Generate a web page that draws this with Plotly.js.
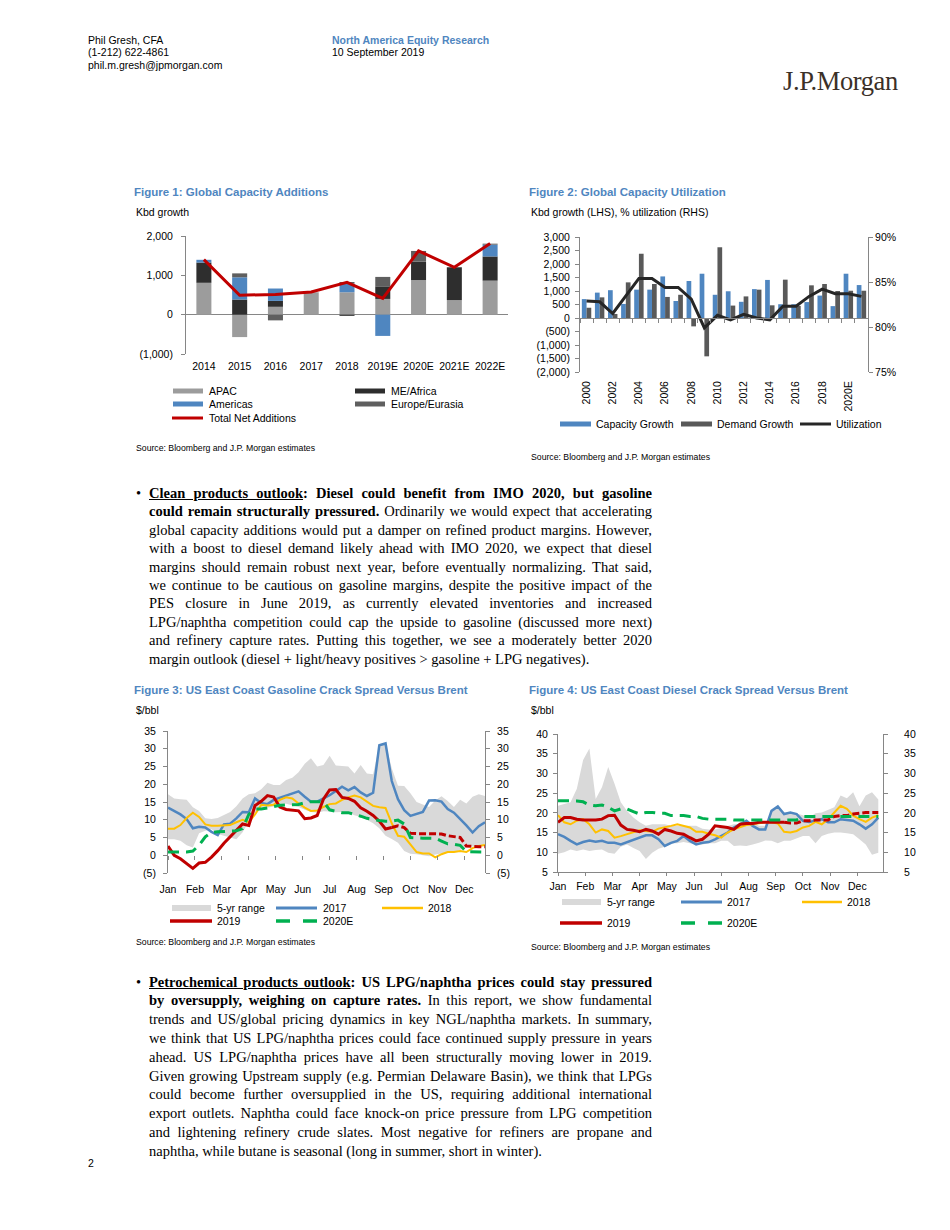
<!DOCTYPE html>
<html><head><meta charset="utf-8">
<script src="https://cdn.plot.ly/plotly-3.0.1.min.js"></script>
<style>
body{margin:0;background:#fff;width:950px;height:1230px;position:relative;overflow:hidden;font-family:'Liberation Sans',Arial,sans-serif;color:#000;}
.abs{position:absolute;white-space:nowrap;}
.hdr{font-size:10.5px;line-height:12.5px;}
.para{position:absolute;left:149px;width:503px;font-family:'Liberation Serif','Times New Roman',serif;font-size:14.5px;}
.para div{text-align:justify;text-align-last:justify;height:inherit;}
.para div.last{text-align-last:left;}
.bul{position:absolute;left:136px;font-family:'Liberation Serif','Times New Roman',serif;font-size:14.5px;}
.chart{position:absolute;}
</style></head><body>

<div class="abs hdr" style="left:88px;top:34px">Phil Gresh, CFA</div>
<div class="abs hdr" style="left:88px;top:46px">(1-212) 622-4861</div>
<div class="abs hdr" style="left:88px;top:59px">phil.m.gresh@jpmorgan.com</div>
<div class="abs hdr" style="left:332px;top:34px;color:#4f86c0;font-weight:bold">North America Equity Research</div>
<div class="abs hdr" style="left:332px;top:46px">10 September 2019</div>
<div class="abs" style="left:783px;top:68px;font-family:'Liberation Serif','Times New Roman',serif;font-size:26.5px;line-height:26px;color:#3b3028;letter-spacing:-0.4px">J.P.Morgan</div>

<div id="fig1" class="chart" style="left:130px;top:180px"></div>
<div id="fig2" class="chart" style="left:525px;top:180px"></div>
<div id="fig3" class="chart" style="left:130px;top:680px"></div>
<div id="fig4" class="chart" style="left:525px;top:680px"></div>

<div class="bul" style="top:484px;line-height:18.4px">&#8226;</div>
<div class="para" style="top:484px;line-height:18.4px">
<div><b><u>Clean products outlook</u>: Diesel could benefit from IMO 2020, but gasoline</b></div>
<div><b>could remain structurally pressured.</b> Ordinarily we would expect that accelerating</div>
<div>global capacity additions would put a damper on refined product margins. However,</div>
<div>with a boost to diesel demand likely ahead with IMO 2020, we expect that diesel</div>
<div>margins should remain robust next year, before eventually normalizing. That said,</div>
<div>we continue to be cautious on gasoline margins, despite the positive impact of the</div>
<div>PES closure in June 2019, as currently elevated inventories and increased</div>
<div>LPG/naphtha competition could cap the upside to gasoline (discussed more next)</div>
<div>and refinery capture rates. Putting this together, we see a moderately better 2020</div>
<div class="last">margin outlook (diesel + light/heavy positives &gt; gasoline + LPG negatives).</div>
</div>

<div class="bul" style="top:972.6px;line-height:18.8px">&#8226;</div>
<div class="para" style="top:972.6px;line-height:18.8px">
<div><b><u>Petrochemical products outlook</u>: US LPG/naphtha prices could stay pressured</b></div>
<div><b>by oversupply, weighing on capture rates.</b> In this report, we show fundamental</div>
<div>trends and US/global pricing dynamics in key NGL/naphtha markets. In summary,</div>
<div>we think that US LPG/naphtha prices could face continued supply pressure in years</div>
<div>ahead. US LPG/naphtha prices have all been structurally moving lower in 2019.</div>
<div>Given growing Upstream supply (e.g. Permian Delaware Basin), we think that LPGs</div>
<div>could become further oversupplied in the US, requiring additional international</div>
<div>export outlets. Naphtha could face knock-on price pressure from LPG competition</div>
<div>and lightening refinery crude slates. Most negative for refiners are propane and</div>
<div class="last">naphtha, while butane is seasonal (long in summer, short in winter).</div>
</div>

<div class="abs hdr" style="left:88px;top:1157px">2</div>

<script>
// ---------------- DATA ----------------
// Figure 1: Global Capacity Additions (kbd)
const f1Years = ['2014','2015','2016','2017','2018','2019E','2020E','2021E','2022E'];
const f1APAC = [810, -570, 200, 570, 570, 400, 880, 370, 865];
const f1MEAfrica = [515, 385, 150, 0, -30, 320, 470, 835, 615];
const f1Americas = [70, 565, 315, 0, 220, -540, 0, 0, 300];
const f1Europe = [0, 100, -145, 0, 40, 240, 270, 0, 25];
const f1Total = [1400, 495, 515, 575, 820, 415, 1620, 1205, 1810];

// Figure 2: Global Capacity Utilization
const f2Years = ['2000','2001','2002','2003','2004','2005','2006','2007','2008','2009','2010','2011','2012','2013','2014','2015','2016','2017','2018','2019','2020E','2021E'];
const f2Capacity = [700, 940, 1030, 520, 1050, 1050, 1540, 630, 1370, 1640, 860, 990, 600, 1070, 1410, 510, 510, 590, 830, 440, 1640, 1220];
const f2Demand = [380, 765, 150, 1320, 2380, 1260, 780, 860, -310, -1420, 2620, 460, 800, 1050, 470, 1420, 450, 1210, 1260, 1000, 1010, 1010];
const f2Utilization = [82.9, 82.8, 81.5, 83.5, 85.4, 85.4, 84.4, 84.4, 83.1, 79.9, 81.3, 80.8, 81.4, 81.0, 80.8, 82.3, 82.3, 83.4, 84.2, 83.7, 83.7, 83.4];
const f2TickYears = ['2000','2002','2004','2006','2008','2010','2012','2014','2016','2018','2020E'];

// Weekly series (week of year)
const weeks = [1,2,3,4,5,6,7,8,9,10,11,12,13,14,15,16,17,18,19,20,21,22,23,24,25,26,27,28,29,30,31,32,33,34,35,36,37,38,39,40,41,42,43,44,45,46,47,48,49,50,51,52];
const monthNames = ['Jan','Feb','Mar','Apr','May','Jun','Jul','Aug','Sep','Oct','Nov','Dec'];

// Figure 3: Gasoline crack ($/bbl)
const gasRangeHigh = [17.2,16.0,15.8,15.6,13.5,12.5,10.4,10.2,10.5,11.4,12.2,13.8,16.0,17.2,17.5,18.6,20.4,19.8,19.8,21.2,21.8,23.4,25.8,27.3,25.0,25.4,28.0,25.3,25.2,25.0,23.0,25.4,23.0,22.8,31.0,31.6,24.5,19.6,19.5,17.5,15.0,14.2,13.6,15.4,16.6,15.3,13.6,15.6,14.6,16.5,17.2,16.7];
const gasRangeLow = [4.5,4.5,4.1,2.8,2.2,6.2,6.9,7.3,6.0,5.4,5.0,4.5,6.5,9.5,12.0,13.5,13.4,13.7,14.6,14.5,14.0,13.6,12.8,12.2,12.0,12.4,12.3,12.1,12.2,12.0,11.3,10.8,10.0,9.0,7.6,5.5,4.6,3.5,1.2,0.4,0.3,0.1,-0.3,0.2,0.5,0.8,0.8,1.5,2.2,2.5,2.6,2.6];
const gas2017 = [13.4,12.4,11.5,10.2,7.6,8.0,7.8,6.6,5.7,8.7,8.9,10.4,12.2,12.1,16.0,14.7,14.4,15.6,16.2,16.6,17.4,18.0,16.5,15.1,15.1,16.0,16.9,18.1,19.3,18.3,19.2,17.7,16.7,17.6,31.0,31.5,20.9,15.8,12.7,11.1,11.6,12.2,15.4,15.5,15.1,13.0,12.0,10.3,8.4,6.4,8.2,9.3];
const gas2018 = [7.5,7.5,8.5,10.5,12.0,10.8,8.7,8.3,8.3,8.3,8.5,9.3,10.0,9.3,11.5,14.2,14.0,14.2,15.6,16.3,16.0,14.6,13.4,12.5,12.6,13.6,14.4,14.6,15.6,16.3,16.8,16.3,15.0,13.9,13.5,13.3,9.0,5.5,5.2,3.2,0.9,0.5,0.5,-0.6,0.3,0.9,0.9,1.2,0.9,2.0,2.6,2.9];
const gas2019 = [2.6,0.0,-1.0,-2.3,-3.7,-2.2,-2.0,-0.5,1.3,3.4,5.2,7.2,8.8,8.4,14.0,15.2,16.8,16.4,13.6,12.9,12.8,12.5,10.3,10.5,11.2,15.8,18.4,18.5,16.3,16.0,15.2,13.4,12.4,11.2,9.6,7.4,7.8];
const gas2019Est = [7.8,8.3,7.8,6.2,6.1,6.1,6.1,6.1,6.0,5.5,5.2,5.0,2.6,2.4,2.4,2.4];
const gas2020E = [0.9,0.9,0.9,0.9,1.2,2.8,5.2,6.4,6.6,6.7,6.9,6.9,7.5,11.5,13.0,13.0,13.3,13.8,14.1,14.2,14.2,14.3,14.8,15.1,15.1,15.1,12.8,12.3,12.0,12.0,11.6,11.0,10.4,10.0,9.8,9.6,9.6,9.9,8.8,5.0,4.8,4.8,4.8,4.8,4.0,3.2,3.1,2.8,1.0,0.9,0.9,0.9];

// Figure 4: Diesel crack ($/bbl)
const dslRangeHigh = [21.8,22.2,22.7,26.1,33.4,36.3,23.5,26.5,31.6,27.4,22.7,20.5,18.8,17.6,16.7,17.1,17.1,17.1,16.7,16.7,16.7,16.7,16.7,16.0,15.8,15.8,16.3,16.7,17.1,17.1,18.0,17.6,16.7,16.7,20.5,21.4,19.7,20.3,19.9,19.4,18.8,19.9,20.1,20.7,21.4,24.4,23.7,25.2,21.7,24.4,25.2,23.4];
const dslRangeLow = [9.6,10.0,10.7,10.3,10.7,10.3,10.6,10.7,9.9,9.6,11.4,12.0,11.1,10.3,8.3,9.9,10.9,11.4,12.3,12.3,12.6,12.3,12.0,12.0,12.3,12.3,12.9,12.9,11.6,11.7,11.6,12.0,12.4,13.0,12.9,12.3,12.9,12.9,13.5,14.1,14.1,12.3,14.1,14.7,15.0,15.0,14.8,14.6,13.3,12.0,9.4,9.9];
const dsl2017 = [14.6,13.9,12.9,12.0,12.6,13.0,12.7,12.9,12.4,12.4,12.0,12.6,13.3,13.9,14.3,14.3,13.3,11.6,12.4,12.9,14.1,12.9,12.0,12.4,12.6,13.3,14.1,15.0,16.3,17.1,18.0,16.7,15.8,15.8,20.5,21.6,19.7,20.1,19.7,18.0,17.7,18.0,18.4,17.6,17.6,18.4,18.2,18.0,17.1,16.0,17.1,18.8];
const dsl2018 = [19.4,17.6,17.1,18.0,18.4,17.1,15.0,15.8,15.4,13.7,14.1,14.6,15.2,15.6,15.4,15.2,16.0,16.3,16.7,17.1,16.7,16.3,15.2,15.2,14.7,14.3,13.7,15.0,15.8,16.4,16.9,17.1,17.3,17.6,17.6,17.3,15.2,15.0,15.4,16.3,16.7,17.7,17.1,18.4,20.1,21.8,21.0,19.3,18.4,17.7,18.8,19.4];
const dsl2019 = [17.6,18.8,18.8,18.4,18.2,18.2,18.2,18.4,19.3,19.4,16.9,15.8,15.6,15.2,15.8,15.4,14.6,15.8,15.4,14.8,14.6,13.7,12.9,13.3,14.6,16.7,16.5,16.3,15.8,17.1,17.3,17.3,17.6,17.6,17.6,17.6,17.6];
const dsl2019Est = [17.6,17.4,17.4,18.0,18.0,18.2,18.2,18.2,19.1,19.3,19.3,19.7,19.9,20.1,20.1,20.1];
const dsl2020E = [23.1,23.1,23.1,23.0,22.8,22.0,21.8,22.0,21.4,20.5,21.0,21.0,20.3,19.7,20.1,20.1,19.9,19.9,19.3,19.3,19.3,19.1,19.1,18.6,18.4,18.4,18.4,18.4,18.2,18.2,18.2,18.2,18.2,18.2,18.2,18.2,18.2,18.2,18.2,19.1,19.1,19.1,19.1,19.1,19.1,19.1,19.1,19.1,19.1,19.1,19.1,19.1];

// ---------------- STYLE ----------------
const FONT = "'Liberation Sans', Arial, sans-serif";
const TITLE_BLUE = '#4f86c0';
const AX = '#868686';
const C_APAC = '#9c9c9c', C_ME = '#2e2e2e', C_AM = '#4f86c0', C_EU = '#5f5f5f', C_RED = '#c00000';
const C_CAP = '#4f86c0', C_DEM = '#595959', C_UTIL = '#262626';
const C_RANGE = '#d9d9d9', C_17 = '#4f86c0', C_18 = '#ffc000', C_19 = '#c00000', C_20 = '#00b050';
const cfg = {staticPlot: true, displayModeBar: false};

function frame(div, plot) {
  // div: page box of chart, plot: page box of plotting area
  const X = x => (x - plot.l) / (plot.r - plot.l);
  const Y = y => (plot.b - y) / (plot.b - plot.t);
  const base = {
    width: div.W, height: div.H,
    margin: {l: plot.l - div.L, r: div.L + div.W - plot.r, t: plot.t - div.T, b: div.T + div.H - plot.b, pad: 0},
    paper_bgcolor: 'rgba(0,0,0,0)', plot_bgcolor: 'rgba(0,0,0,0)',
    font: {family: FONT, size: 10.5, color: '#000'},
    showlegend: false, hovermode: false
  };
  const title = (tx, ty, text) => ({text: text, x: (tx - div.L) / div.W, xref: 'container', xanchor: 'left',
      y: 1 - (ty - div.T) / div.H, yref: 'container', yanchor: 'middle', pad: {t: 0, b: 0, l: 0, r: 0},
      font: {family: FONT, size: 11.5, color: TITLE_BLUE, weight: 700}});
  const txt = (x, y, text, size) => ({xref: 'paper', yref: 'paper', x: X(x), y: Y(y), xanchor: 'left', yanchor: 'middle',
      showarrow: false, text: text, font: {family: FONT, size: size || 10.5, color: '#000'}});
  const rect = (x0, x1, y, color, h) => ({type: 'rect', xref: 'paper', yref: 'paper', x0: X(x0), x1: X(x1),
      y0: Y(y + h / 2), y1: Y(y - h / 2), fillcolor: color, line: {width: 0}});
  const line = (x0, x1, y, color, w, dash) => ({type: 'line', xref: 'paper', yref: 'paper', x0: X(x0), x1: X(x1),
      y0: Y(y), y1: Y(y), line: {color: color, width: w, dash: dash || 'solid'}});
  return {X, Y, base, title, txt, rect, line};
}
function fmtNeg(v) { const s = Math.abs(v).toLocaleString('en-US'); return v < 0 ? '(' + s + ')' : s; }
function range(a, b, s) { const o = []; for (let v = a; v <= b + 1e-9; v += s) o.push(v); return o; }

// ---------------- FIGURE 1 ----------------
(function () {
  const F = frame({L: 130, T: 180, W: 385, H: 275}, {l: 186, r: 508, t: 236, b: 354});
  const yt = [-1000, 0, 1000, 2000];
  const traces = [
    {type: 'bar', name: 'APAC', x: f1Years, y: f1APAC, marker: {color: C_APAC}},
    {type: 'bar', name: 'ME/Africa', x: f1Years, y: f1MEAfrica, marker: {color: C_ME}},
    {type: 'bar', name: 'Americas', x: f1Years, y: f1Americas, marker: {color: C_AM}},
    {type: 'bar', name: 'Europe/Eurasia', x: f1Years, y: f1Europe, marker: {color: C_EU}},
    {type: 'scatter', mode: 'lines', name: 'Total Net Additions', x: f1Years, y: f1Total, line: {color: C_RED, width: 3}}
  ];
  const layout = Object.assign(F.base, {
    title: F.title(134, 192, 'Figure 1: Global Capacity Additions'),
    barmode: 'relative', bargap: 0.58,
    xaxis: {type: 'category', range: [-0.5, 8.5], showline: false, ticks: '', showgrid: false, zeroline: false, ticklabelstandoff: 4},
    yaxis: {range: [-1000, 2000], tickvals: yt, ticktext: yt.map(fmtNeg), showline: true, linecolor: AX, linewidth: 1,
      ticks: 'outside', ticklen: 4, tickcolor: AX, showgrid: false, zeroline: true, zerolinecolor: AX, zerolinewidth: 1, ticklabelstandoff: 6},
    annotations: [
      F.txt(134, 212, 'Kbd growth'),
      F.txt(207, 391, 'APAC'), F.txt(389, 391, 'ME/Africa'),
      F.txt(207, 404, 'Americas'), F.txt(389, 404, 'Europe/Eurasia'),
      F.txt(207, 418, 'Total Net Additions'),
      F.txt(134, 448, 'Source: Bloomberg and J.P. Morgan estimates', 8.7)
    ],
    shapes: [
      F.rect(173, 203, 391, C_APAC, 5), F.rect(355, 385, 391, C_ME, 5),
      F.rect(173, 203, 404, C_AM, 5), F.rect(355, 385, 404, C_EU, 5),
      F.line(172, 203, 418, C_RED, 3)
    ]
  });
  Plotly.newPlot('fig1', traces, layout, cfg);
})();

// ---------------- FIGURE 2 ----------------
(function () {
  const F = frame({L: 525, T: 180, W: 380, H: 285}, {l: 580, r: 868, t: 237, b: 372});
  const yt = range(-2000, 3000, 500);
  const yt2 = [75, 80, 85, 90];
  const traces = [
    {type: 'bar', name: 'Capacity Growth', x: f2Years, y: f2Capacity, marker: {color: C_CAP}},
    {type: 'bar', name: 'Demand Growth', x: f2Years, y: f2Demand, marker: {color: C_DEM}},
    {type: 'scatter', mode: 'lines', name: 'Utilization', x: f2Years, y: f2Utilization, xaxis: 'x2', yaxis: 'y2', line: {color: C_UTIL, width: 3}}
  ];
  const layout = Object.assign(F.base, {
    title: F.title(529, 192, 'Figure 2: Global Capacity Utilization'),
    barmode: 'group', bargap: 0.28, bargroupgap: 0,
    xaxis: {type: 'category', range: [-0.5, 21.5], tickmode: 'array', tickvals: f2TickYears, ticktext: f2TickYears, tickangle: -90,
      showline: false, ticks: '', showgrid: false, zeroline: false, ticklabelstandoff: 6},
    xaxis2: {type: 'category', overlaying: 'x', anchor: 'free', position: 0.4, range: [-0.5, 21.5], tickmode: 'linear', tick0: 0, dtick: 1,
      tickson: 'boundaries', ticks: 'outside', ticklen: 4, tickcolor: AX, showline: true, linecolor: AX, showticklabels: false, showgrid: false, zeroline: false},
    yaxis: {range: [-2000, 3000], tickvals: yt, ticktext: yt.map(fmtNeg), showline: true, linecolor: AX, ticks: 'outside', ticklen: 4,
      tickcolor: AX, showgrid: false, zeroline: false, ticklabelstandoff: 3},
    yaxis2: {range: [75, 90], overlaying: 'y', side: 'right', anchor: 'free', position: 1, tickvals: yt2, ticktext: yt2.map(v => v + '%'),
      showline: true, linecolor: AX, ticks: 'outside', ticklen: 4, tickcolor: AX, showgrid: false, zeroline: false, ticklabelstandoff: 0},
    annotations: [
      F.txt(529, 212, 'Kbd growth (LHS), % utilization (RHS)'),
      F.txt(594, 424, 'Capacity Growth'), F.txt(715, 424, 'Demand Growth'), F.txt(834, 424, 'Utilization'),
      F.txt(529, 457, 'Source: Bloomberg and J.P. Morgan estimates', 8.7)
    ],
    shapes: [
      F.rect(560, 591, 424, C_CAP, 5), F.rect(681, 712, 424, C_DEM, 5), F.line(800, 831, 424, C_UTIL, 3)
    ]
  });
  Plotly.newPlot('fig2', traces, layout, cfg);
})();

// ---------------- FIGURE 3 ----------------
(function () {
  const F = frame({L: 130, T: 680, W: 385, H: 272}, {l: 168, r: 485, t: 731, b: 873});
  const yt = range(-5, 35, 5);
  const mt = monthNames.map((m, i) => 1 + i * 52 / 12);
  const traces = [
    {type: 'scatter', mode: 'lines', name: '5-yr range low', x: weeks, y: gasRangeLow, line: {width: 0, color: C_RANGE}},
    {type: 'scatter', mode: 'lines', name: '5-yr range', x: weeks, y: gasRangeHigh, line: {width: 0, color: C_RANGE}, fill: 'tonexty', fillcolor: C_RANGE},
    {type: 'scatter', mode: 'lines', name: '2017', x: weeks, y: gas2017, line: {color: C_17, width: 2.5}},
    {type: 'scatter', mode: 'lines', name: '2018', x: weeks, y: gas2018, line: {color: C_18, width: 2}},
    {type: 'scatter', mode: 'lines', name: '2019', x: weeks.slice(0, 37), y: gas2019, line: {color: C_19, width: 3}},
    {type: 'scatter', mode: 'lines', name: '2019 (est.)', x: weeks.slice(36), y: gas2019Est, line: {color: C_19, width: 3, dash: '7px,3px'}},
    {type: 'scatter', mode: 'lines', name: '2020E', x: weeks, y: gas2020E, xaxis: 'x2', yaxis: 'y2', line: {color: C_20, width: 3, dash: '11px,7px'}}
  ];
  const layout = Object.assign(F.base, {
    title: F.title(134, 690, 'Figure 3: US East Coast Gasoline Crack Spread Versus Brent'),
    xaxis: {range: [1, 52], tickvals: mt, ticktext: monthNames, showline: false, ticks: '', showgrid: false, zeroline: false, ticklabelstandoff: 8},
    xaxis2: {range: [1, 52], overlaying: 'x', anchor: 'free', position: 0.125, tickvals: mt, showticklabels: false, ticks: 'outside', ticklen: 4,
      tickcolor: AX, showline: false, showgrid: false, zeroline: false},
    yaxis: {range: [-5, 35], tickvals: yt, ticktext: yt.map(fmtNeg), showline: true, linecolor: AX, ticks: 'outside', ticklen: 4, tickcolor: AX,
      showgrid: false, zeroline: false, ticklabelstandoff: 5},
    yaxis2: {range: [-5, 35], overlaying: 'y', side: 'right', anchor: 'free', position: 1, tickvals: yt, ticktext: yt.map(fmtNeg), showline: true,
      linecolor: AX, ticks: 'outside', ticklen: 4, tickcolor: AX, showgrid: false, zeroline: false, ticklabelstandoff: 5},
    annotations: [
      F.txt(134, 710, '$/bbl'),
      F.txt(215, 908, '5-yr range'), F.txt(321, 908, '2017'), F.txt(426, 908, '2018'),
      F.txt(215, 921, '2019'), F.txt(321, 921, '2020E'),
      F.txt(134, 942, 'Source: Bloomberg and J.P. Morgan estimates', 8.7)
    ],
    shapes: [
      F.rect(172, 211, 908, C_RANGE, 6), F.line(276, 317, 908, C_17, 3), F.line(382, 423, 908, C_18, 2.5),
      F.line(170, 212, 921, C_19, 3.5), F.line(276, 317, 921, C_20, 3.5, '14px,13px')
    ]
  });
  Plotly.newPlot('fig3', traces, layout, cfg);
})();

// ---------------- FIGURE 4 ----------------
(function () {
  const F = frame({L: 525, T: 680, W: 395, H: 275}, {l: 558, r: 883, t: 734, b: 872});
  const yt = range(5, 40, 5);
  const mt = monthNames.map((m, i) => 1 + i * 52 / 12);
  const traces = [
    {type: 'scatter', mode: 'lines', name: '5-yr range low', x: weeks, y: dslRangeLow, line: {width: 0, color: C_RANGE}},
    {type: 'scatter', mode: 'lines', name: '5-yr range', x: weeks, y: dslRangeHigh, line: {width: 0, color: C_RANGE}, fill: 'tonexty', fillcolor: C_RANGE},
    {type: 'scatter', mode: 'lines', name: '2017', x: weeks, y: dsl2017, line: {color: C_17, width: 2.5}},
    {type: 'scatter', mode: 'lines', name: '2018', x: weeks, y: dsl2018, line: {color: C_18, width: 2}},
    {type: 'scatter', mode: 'lines', name: '2019', x: weeks.slice(0, 37), y: dsl2019, line: {color: C_19, width: 3}},
    {type: 'scatter', mode: 'lines', name: '2019 (est.)', x: weeks.slice(36), y: dsl2019Est, line: {color: C_19, width: 3, dash: '7px,3px'}},
    {type: 'scatter', mode: 'lines', name: '2020E', x: weeks, y: dsl2020E, yaxis: 'y2', line: {color: C_20, width: 3, dash: '11px,7px'}}
  ];
  const layout = Object.assign(F.base, {
    title: F.title(529, 690, 'Figure 4: US East Coast Diesel Crack Spread Versus Brent'),
    xaxis: {range: [1, 52.75], tickvals: mt, ticktext: monthNames, showline: true, linecolor: AX, ticks: 'outside', ticklen: 3, tickcolor: AX,
      showgrid: false, zeroline: false, ticklabelstandoff: 1},
    yaxis: {range: [5, 40], tickvals: yt, showline: true, linecolor: AX, ticks: 'outside', ticklen: 4, tickcolor: AX,
      showgrid: false, zeroline: false, ticklabelstandoff: 3},
    yaxis2: {range: [5, 40], overlaying: 'y', side: 'right', anchor: 'x', tickvals: yt, showline: true, linecolor: AX, ticks: 'outside', ticklen: 4,
      tickcolor: AX, showgrid: false, zeroline: false, ticklabelstandoff: 14},
    annotations: [
      F.txt(529, 710, '$/bbl'),
      F.txt(605, 902, '5-yr range'), F.txt(725, 902, '2017'), F.txt(845, 902, '2018'),
      F.txt(605, 923, '2019'), F.txt(725, 923, '2020E'),
      F.txt(529, 947, 'Source: Bloomberg and J.P. Morgan estimates', 8.7)
    ],
    shapes: [
      F.rect(562, 601, 902, C_RANGE, 6), F.line(681, 722, 902, C_17, 3), F.line(802, 842, 902, C_18, 2.5),
      F.line(560, 602, 923, C_19, 3.5), F.line(681, 722, 923, C_20, 3.5, '14px,13px')
    ]
  });
  Plotly.newPlot('fig4', traces, layout, cfg);
})();
</script>
</body></html>
